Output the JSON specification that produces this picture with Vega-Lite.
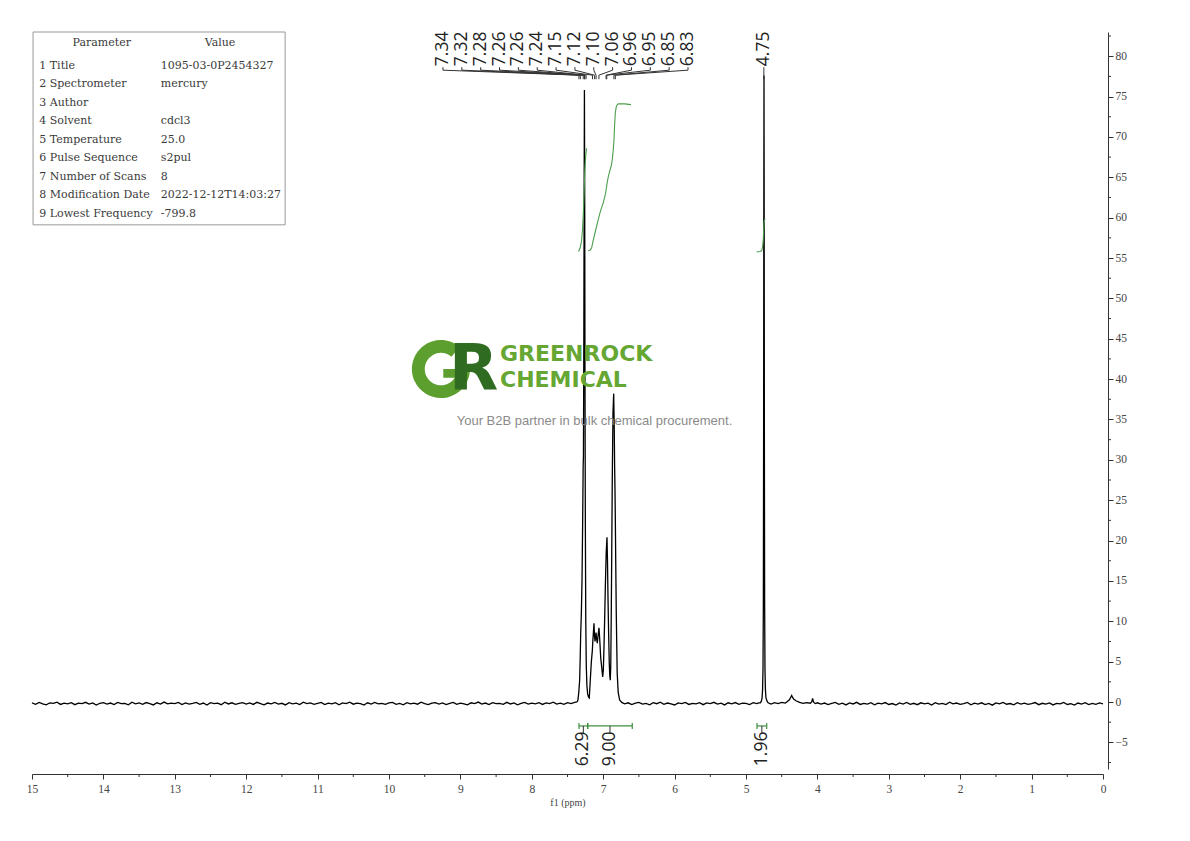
{
  "$schema": "https://vega.github.io/schema/vega-lite/v6.json",
  "width": 1071,
  "height": 737,
  "autosize": {"type": "none"},
  "padding": {"left": 32, "top": 32, "right": 87, "bottom": 72},
  "background": "white",
  "config": {"view": {"stroke": null}},
  "datasets": {
    "spectrum": [
      {"ppm": 15.00, "i": -0.12}, {"ppm": 14.95, "i": -0.28}, {"ppm": 14.90, "i": -0.05}, {"ppm": 14.85, "i": -0.22}, {"ppm": 14.80, "i": -0.35},
      {"ppm": 14.75, "i": -0.10}, {"ppm": 14.70, "i": -0.18}, {"ppm": 14.65, "i": -0.02}, {"ppm": 14.60, "i": -0.30}, {"ppm": 14.55, "i": -0.15},
      {"ppm": 14.50, "i": -0.24}, {"ppm": 14.45, "i": -0.08}, {"ppm": 14.40, "i": -0.33}, {"ppm": 14.35, "i": -0.14}, {"ppm": 14.30, "i": -0.20},
      {"ppm": 14.25, "i": -0.04}, {"ppm": 14.20, "i": -0.26}, {"ppm": 14.15, "i": -0.11}, {"ppm": 14.10, "i": -0.38}, {"ppm": 14.05, "i": -0.16},
      {"ppm": 14.00, "i": -0.09}, {"ppm": 13.95, "i": -0.27}, {"ppm": 13.90, "i": -0.13}, {"ppm": 13.85, "i": -0.31}, {"ppm": 13.80, "i": -0.06},
      {"ppm": 13.75, "i": -0.21}, {"ppm": 13.70, "i": -0.17}, {"ppm": 13.65, "i": -0.34}, {"ppm": 13.60, "i": -0.03}, {"ppm": 13.55, "i": -0.23},
      {"ppm": 13.50, "i": -0.12}, {"ppm": 13.45, "i": -0.29}, {"ppm": 13.40, "i": -0.07}, {"ppm": 13.35, "i": -0.19}, {"ppm": 13.30, "i": -0.36},
      {"ppm": 13.25, "i": -0.10}, {"ppm": 13.20, "i": -0.25}, {"ppm": 13.15, "i": -0.01}, {"ppm": 13.10, "i": -0.22}, {"ppm": 13.05, "i": -0.14},
      {"ppm": 13.00, "i": -0.20}, {"ppm": 12.95, "i": -0.06}, {"ppm": 12.90, "i": -0.32}, {"ppm": 12.85, "i": -0.11}, {"ppm": 12.80, "i": -0.26},
      {"ppm": 12.75, "i": -0.16}, {"ppm": 12.70, "i": -0.04}, {"ppm": 12.65, "i": -0.29}, {"ppm": 12.60, "i": -0.13}, {"ppm": 12.55, "i": -0.37},
      {"ppm": 12.50, "i": -0.08}, {"ppm": 12.45, "i": -0.21}, {"ppm": 12.40, "i": -0.15}, {"ppm": 12.35, "i": -0.33}, {"ppm": 12.30, "i": -0.02},
      {"ppm": 12.25, "i": -0.24}, {"ppm": 12.20, "i": -0.10}, {"ppm": 12.15, "i": -0.28}, {"ppm": 12.10, "i": -0.18}, {"ppm": 12.05, "i": -0.07},
      {"ppm": 12.00, "i": -0.25}, {"ppm": 11.95, "i": -0.11}, {"ppm": 11.90, "i": -0.30}, {"ppm": 11.85, "i": -0.04}, {"ppm": 11.80, "i": -0.19},
      {"ppm": 11.75, "i": -0.34}, {"ppm": 11.70, "i": -0.13}, {"ppm": 11.65, "i": -0.22}, {"ppm": 11.60, "i": -0.06}, {"ppm": 11.55, "i": -0.27},
      {"ppm": 11.50, "i": -0.16}, {"ppm": 11.45, "i": -0.36}, {"ppm": 11.40, "i": -0.09}, {"ppm": 11.35, "i": -0.23}, {"ppm": 11.30, "i": -0.14},
      {"ppm": 11.25, "i": -0.31}, {"ppm": 11.20, "i": -0.03}, {"ppm": 11.15, "i": -0.20}, {"ppm": 11.10, "i": -0.12}, {"ppm": 11.05, "i": -0.28},
      {"ppm": 11.00, "i": -0.17}, {"ppm": 10.95, "i": -0.05}, {"ppm": 10.90, "i": -0.32}, {"ppm": 10.85, "i": -0.15}, {"ppm": 10.80, "i": -0.24},
      {"ppm": 10.75, "i": -0.08}, {"ppm": 10.70, "i": -0.35}, {"ppm": 10.65, "i": -0.12}, {"ppm": 10.60, "i": -0.21}, {"ppm": 10.55, "i": -0.02},
      {"ppm": 10.50, "i": -0.27}, {"ppm": 10.45, "i": -0.14}, {"ppm": 10.40, "i": -0.19}, {"ppm": 10.35, "i": -0.37}, {"ppm": 10.30, "i": -0.10},
      {"ppm": 10.25, "i": -0.26}, {"ppm": 10.20, "i": -0.06}, {"ppm": 10.15, "i": -0.23}, {"ppm": 10.10, "i": -0.16}, {"ppm": 10.05, "i": -0.30},
      {"ppm": 10.00, "i": -0.11}, {"ppm": 9.95, "i": -0.04}, {"ppm": 9.90, "i": -0.29}, {"ppm": 9.85, "i": -0.18}, {"ppm": 9.80, "i": -0.34},
      {"ppm": 9.75, "i": -0.09}, {"ppm": 9.70, "i": -0.22}, {"ppm": 9.65, "i": -0.13}, {"ppm": 9.60, "i": -0.27}, {"ppm": 9.55, "i": -0.03},
      {"ppm": 9.50, "i": -0.20}, {"ppm": 9.45, "i": -0.33}, {"ppm": 9.40, "i": -0.15}, {"ppm": 9.35, "i": -0.07}, {"ppm": 9.30, "i": -0.25},
      {"ppm": 9.25, "i": -0.12}, {"ppm": 9.20, "i": -0.31}, {"ppm": 9.15, "i": -0.17}, {"ppm": 9.10, "i": -0.05}, {"ppm": 9.05, "i": -0.28},
      {"ppm": 9.00, "i": -0.14}, {"ppm": 8.95, "i": -0.22}, {"ppm": 8.90, "i": -0.36}, {"ppm": 8.85, "i": -0.10}, {"ppm": 8.80, "i": -0.19},
      {"ppm": 8.75, "i": -0.01}, {"ppm": 8.70, "i": -0.26}, {"ppm": 8.65, "i": -0.13}, {"ppm": 8.60, "i": -0.32}, {"ppm": 8.55, "i": -0.08},
      {"ppm": 8.50, "i": -0.21}, {"ppm": 8.45, "i": -0.16}, {"ppm": 8.40, "i": -0.29}, {"ppm": 8.35, "i": -0.04}, {"ppm": 8.30, "i": -0.24},
      {"ppm": 8.25, "i": -0.11}, {"ppm": 8.20, "i": -0.35}, {"ppm": 8.15, "i": -0.18}, {"ppm": 8.10, "i": -0.06}, {"ppm": 8.05, "i": -0.27},
      {"ppm": 8.00, "i": -0.14}, {"ppm": 7.95, "i": -0.23}, {"ppm": 7.90, "i": -0.09}, {"ppm": 7.85, "i": -0.30}, {"ppm": 7.80, "i": -0.12},
      {"ppm": 7.75, "i": -0.20}, {"ppm": 7.70, "i": -0.03}, {"ppm": 7.65, "i": -0.25}, {"ppm": 7.60, "i": -0.15}, {"ppm": 7.55, "i": -0.28},
      {"ppm": 7.50, "i": -0.08}, {"ppm": 7.45, "i": -0.19}, {"ppm": 7.40, "i": -0.05}, {"ppm": 7.37, "i": 0.0}, {"ppm": 7.36, "i": 0.1},
      {"ppm": 7.353, "i": 0.3}, {"ppm": 7.342, "i": 1.2}, {"ppm": 7.330, "i": 2.7}, {"ppm": 7.322, "i": 5.5}, {"ppm": 7.315, "i": 8.5},
      {"ppm": 7.306, "i": 11}, {"ppm": 7.297, "i": 15}, {"ppm": 7.288, "i": 22}, {"ppm": 7.281, "i": 29}, {"ppm": 7.277, "i": 30.4},
      {"ppm": 7.272, "i": 42}, {"ppm": 7.267, "i": 62}, {"ppm": 7.263, "i": 75.8}, {"ppm": 7.259, "i": 62}, {"ppm": 7.255, "i": 40},
      {"ppm": 7.250, "i": 22}, {"ppm": 7.244, "i": 10}, {"ppm": 7.237, "i": 4.5}, {"ppm": 7.228, "i": 2.0}, {"ppm": 7.218, "i": 1.0},
      {"ppm": 7.205, "i": 0.6}, {"ppm": 7.195, "i": 0.5}, {"ppm": 7.182, "i": 2.5}, {"ppm": 7.166, "i": 5.0}, {"ppm": 7.152, "i": 6.4},
      {"ppm": 7.145, "i": 7.6}, {"ppm": 7.138, "i": 8.5}, {"ppm": 7.129, "i": 9.75}, {"ppm": 7.122, "i": 8.2}, {"ppm": 7.115, "i": 7.5},
      {"ppm": 7.108, "i": 8.0}, {"ppm": 7.101, "i": 8.6}, {"ppm": 7.092, "i": 7.8}, {"ppm": 7.083, "i": 7.3}, {"ppm": 7.071, "i": 8.3},
      {"ppm": 7.059, "i": 9.2}, {"ppm": 7.047, "i": 7.5}, {"ppm": 7.035, "i": 5.5}, {"ppm": 7.021, "i": 4.3}, {"ppm": 7.007, "i": 3.1},
      {"ppm": 6.998, "i": 4.0}, {"ppm": 6.989, "i": 6.8}, {"ppm": 6.979, "i": 10.5}, {"ppm": 6.970, "i": 14.3}, {"ppm": 6.958, "i": 18.5},
      {"ppm": 6.947, "i": 20.4}, {"ppm": 6.940, "i": 17.5}, {"ppm": 6.933, "i": 13}, {"ppm": 6.924, "i": 8.5}, {"ppm": 6.915, "i": 4.8},
      {"ppm": 6.908, "i": 3.3}, {"ppm": 6.901, "i": 2.7}, {"ppm": 6.894, "i": 4.5}, {"ppm": 6.887, "i": 11}, {"ppm": 6.880, "i": 19},
      {"ppm": 6.873, "i": 27.5}, {"ppm": 6.863, "i": 35.8}, {"ppm": 6.853, "i": 38.2}, {"ppm": 6.845, "i": 33.7}, {"ppm": 6.840, "i": 29.1},
      {"ppm": 6.836, "i": 27}, {"ppm": 6.831, "i": 23.4}, {"ppm": 6.824, "i": 17}, {"ppm": 6.817, "i": 11}, {"ppm": 6.804, "i": 3.6},
      {"ppm": 6.790, "i": 1.2}, {"ppm": 6.770, "i": 0.25}, {"ppm": 6.74, "i": -0.05},
      {"ppm": 6.70, "i": -0.22}, {"ppm": 6.65, "i": -0.10}, {"ppm": 6.60, "i": -0.31}, {"ppm": 6.55, "i": -0.14}, {"ppm": 6.50, "i": -0.06},
      {"ppm": 6.45, "i": -0.26}, {"ppm": 6.40, "i": -0.17}, {"ppm": 6.35, "i": -0.34}, {"ppm": 6.30, "i": -0.09}, {"ppm": 6.25, "i": -0.21},
      {"ppm": 6.20, "i": -0.02}, {"ppm": 6.15, "i": -0.28}, {"ppm": 6.10, "i": -0.13}, {"ppm": 6.05, "i": -0.24}, {"ppm": 6.00, "i": -0.37},
      {"ppm": 5.95, "i": -0.11}, {"ppm": 5.90, "i": -0.19}, {"ppm": 5.85, "i": -0.05}, {"ppm": 5.80, "i": -0.30}, {"ppm": 5.75, "i": -0.16},
      {"ppm": 5.70, "i": -0.23}, {"ppm": 5.65, "i": -0.08}, {"ppm": 5.60, "i": -0.33}, {"ppm": 5.55, "i": -0.12}, {"ppm": 5.50, "i": -0.20},
      {"ppm": 5.45, "i": -0.04}, {"ppm": 5.40, "i": -0.27}, {"ppm": 5.35, "i": -0.15}, {"ppm": 5.30, "i": -0.36}, {"ppm": 5.25, "i": -0.10},
      {"ppm": 5.20, "i": -0.22}, {"ppm": 5.15, "i": -0.07}, {"ppm": 5.10, "i": -0.29}, {"ppm": 5.05, "i": -0.13}, {"ppm": 5.00, "i": -0.18},
      {"ppm": 4.95, "i": -0.32}, {"ppm": 4.90, "i": -0.09}, {"ppm": 4.85, "i": -0.21}, {"ppm": 4.82, "i": -0.12},
      {"ppm": 4.80, "i": -0.1}, {"ppm": 4.785, "i": 0.1},
      {"ppm": 4.775, "i": 0.5}, {"ppm": 4.768, "i": 1.5}, {"ppm": 4.762, "i": 4}, {"ppm": 4.757, "i": 12}, {"ppm": 4.753, "i": 35},
      {"ppm": 4.750, "i": 65}, {"ppm": 4.748, "i": 77.6}, {"ppm": 4.746, "i": 65}, {"ppm": 4.743, "i": 35}, {"ppm": 4.739, "i": 12},
      {"ppm": 4.734, "i": 4}, {"ppm": 4.728, "i": 1.5}, {"ppm": 4.720, "i": 0.5}, {"ppm": 4.705, "i": 0.1}, {"ppm": 4.69, "i": -0.1},
      {"ppm": 4.65, "i": -0.25}, {"ppm": 4.60, "i": -0.09}, {"ppm": 4.55, "i": -0.2}, {"ppm": 4.50, "i": -0.06}, {"ppm": 4.45, "i": -0.14},
      {"ppm": 4.42, "i": 0.05}, {"ppm": 4.39, "i": 0.3}, {"ppm": 4.37, "i": 0.65}, {"ppm": 4.36, "i": 0.8}, {"ppm": 4.35, "i": 0.6},
      {"ppm": 4.33, "i": 0.35}, {"ppm": 4.30, "i": 0.15}, {"ppm": 4.25, "i": -0.05}, {"ppm": 4.20, "i": -0.18}, {"ppm": 4.15, "i": -0.08},
      {"ppm": 4.10, "i": -0.15}, {"ppm": 4.08, "i": 0.0}, {"ppm": 4.067, "i": 0.45}, {"ppm": 4.055, "i": 0.0}, {"ppm": 4.03, "i": -0.2},
      {"ppm": 4.00, "i": -0.1},
      {"ppm": 3.95, "i": -0.27}, {"ppm": 3.90, "i": -0.13}, {"ppm": 3.85, "i": -0.32}, {"ppm": 3.80, "i": -0.18}, {"ppm": 3.75, "i": -0.06},
      {"ppm": 3.70, "i": -0.29}, {"ppm": 3.65, "i": -0.15}, {"ppm": 3.60, "i": -0.36}, {"ppm": 3.55, "i": -0.11}, {"ppm": 3.50, "i": -0.24},
      {"ppm": 3.45, "i": -0.04}, {"ppm": 3.40, "i": -0.30}, {"ppm": 3.35, "i": -0.17}, {"ppm": 3.30, "i": -0.26}, {"ppm": 3.25, "i": -0.09},
      {"ppm": 3.20, "i": -0.34}, {"ppm": 3.15, "i": -0.14}, {"ppm": 3.10, "i": -0.22}, {"ppm": 3.05, "i": -0.07}, {"ppm": 3.00, "i": -0.31},
      {"ppm": 2.95, "i": -0.19}, {"ppm": 2.90, "i": -0.38}, {"ppm": 2.85, "i": -0.12}, {"ppm": 2.80, "i": -0.25}, {"ppm": 2.75, "i": -0.05},
      {"ppm": 2.70, "i": -0.28}, {"ppm": 2.65, "i": -0.16}, {"ppm": 2.60, "i": -0.33}, {"ppm": 2.55, "i": -0.10}, {"ppm": 2.50, "i": -0.23},
      {"ppm": 2.45, "i": -0.14}, {"ppm": 2.40, "i": -0.37}, {"ppm": 2.35, "i": -0.08}, {"ppm": 2.30, "i": -0.27}, {"ppm": 2.25, "i": -0.18},
      {"ppm": 2.20, "i": -0.32}, {"ppm": 2.15, "i": -0.03}, {"ppm": 2.10, "i": -0.24}, {"ppm": 2.05, "i": -0.13}, {"ppm": 2.00, "i": -0.29},
      {"ppm": 1.95, "i": -0.20}, {"ppm": 1.90, "i": -0.06}, {"ppm": 1.85, "i": -0.35}, {"ppm": 1.80, "i": -0.15}, {"ppm": 1.75, "i": -0.26},
      {"ppm": 1.70, "i": -0.10}, {"ppm": 1.65, "i": -0.31}, {"ppm": 1.60, "i": -0.17}, {"ppm": 1.55, "i": -0.39}, {"ppm": 1.50, "i": -0.12},
      {"ppm": 1.45, "i": -0.22}, {"ppm": 1.40, "i": -0.05}, {"ppm": 1.35, "i": -0.28}, {"ppm": 1.30, "i": -0.19}, {"ppm": 1.25, "i": -0.34},
      {"ppm": 1.20, "i": -0.09}, {"ppm": 1.15, "i": -0.25}, {"ppm": 1.10, "i": -0.14}, {"ppm": 1.05, "i": -0.30}, {"ppm": 1.00, "i": -0.21},
      {"ppm": 0.95, "i": -0.07}, {"ppm": 0.90, "i": -0.33}, {"ppm": 0.85, "i": -0.16}, {"ppm": 0.80, "i": -0.27}, {"ppm": 0.75, "i": -0.11},
      {"ppm": 0.70, "i": -0.36}, {"ppm": 0.65, "i": -0.18}, {"ppm": 0.60, "i": -0.24}, {"ppm": 0.55, "i": -0.06}, {"ppm": 0.50, "i": -0.31},
      {"ppm": 0.45, "i": -0.20}, {"ppm": 0.40, "i": -0.38}, {"ppm": 0.35, "i": -0.13}, {"ppm": 0.30, "i": -0.26}, {"ppm": 0.25, "i": -0.09},
      {"ppm": 0.20, "i": -0.32}, {"ppm": 0.15, "i": -0.17}, {"ppm": 0.10, "i": -0.28}, {"ppm": 0.05, "i": -0.12}, {"ppm": 0.00, "i": -0.22}
    ],
    "integrals": [
      {"seg": "a", "ppm": 7.345, "i": 55.8}, {"seg": "a", "ppm": 7.325, "i": 56.2}, {"seg": "a", "ppm": 7.305, "i": 57.0},
      {"seg": "a", "ppm": 7.290, "i": 58.5}, {"seg": "a", "ppm": 7.278, "i": 60.5}, {"seg": "a", "ppm": 7.268, "i": 63.0},
      {"seg": "a", "ppm": 7.258, "i": 65.8}, {"seg": "a", "ppm": 7.245, "i": 67.7}, {"seg": "a", "ppm": 7.232, "i": 68.6},
      {"seg": "b", "ppm": 7.209, "i": 55.89}, {"seg": "b", "ppm": 7.180, "i": 56.0}, {"seg": "b", "ppm": 7.161, "i": 56.3},
      {"seg": "b", "ppm": 7.140, "i": 57.2}, {"seg": "b", "ppm": 7.115, "i": 58.1}, {"seg": "b", "ppm": 7.080, "i": 59.4},
      {"seg": "b", "ppm": 7.045, "i": 60.6}, {"seg": "b", "ppm": 7.020, "i": 61.3}, {"seg": "b", "ppm": 6.998, "i": 61.9},
      {"seg": "b", "ppm": 6.975, "i": 62.7}, {"seg": "b", "ppm": 6.961, "i": 63.3}, {"seg": "b", "ppm": 6.945, "i": 64.3},
      {"seg": "b", "ppm": 6.928, "i": 65.1}, {"seg": "b", "ppm": 6.905, "i": 65.9}, {"seg": "b", "ppm": 6.885, "i": 66.5},
      {"seg": "b", "ppm": 6.873, "i": 67.2}, {"seg": "b", "ppm": 6.860, "i": 68.3}, {"seg": "b", "ppm": 6.849, "i": 69.6},
      {"seg": "b", "ppm": 6.840, "i": 71.5}, {"seg": "b", "ppm": 6.831, "i": 72.9}, {"seg": "b", "ppm": 6.820, "i": 73.6},
      {"seg": "b", "ppm": 6.811, "i": 73.9}, {"seg": "b", "ppm": 6.790, "i": 74.1}, {"seg": "b", "ppm": 6.765, "i": 74.1},
      {"seg": "b", "ppm": 6.700, "i": 74.1}, {"seg": "b", "ppm": 6.611, "i": 74.0},
      {"seg": "c", "ppm": 4.850, "i": 55.76}, {"seg": "c", "ppm": 4.810, "i": 55.8}, {"seg": "c", "ppm": 4.780, "i": 55.9},
      {"seg": "c", "ppm": 4.768, "i": 56.4}, {"seg": "c", "ppm": 4.758, "i": 57.3}, {"seg": "c", "ppm": 4.752, "i": 58.5},
      {"seg": "c", "ppm": 4.748, "i": 59.3}, {"seg": "c", "ppm": 4.740, "i": 59.7}, {"seg": "c", "ppm": 4.730, "i": 59.8}
    ],
    "ranges": [
      {"from": 7.339, "to": 7.217, "val": "6.29"},
      {"from": 7.217, "to": 6.593, "val": "9.00"},
      {"from": 4.846, "to": 4.710, "val": "1.96"}
    ],
    "peaks": [
      {"i": 0, "g": "a", "lab": "7.34", "shift": 7.34},
      {"i": 1, "g": "a", "lab": "7.32", "shift": 7.32},
      {"i": 2, "g": "a", "lab": "7.28", "shift": 7.28},
      {"i": 3, "g": "a", "lab": "7.26", "shift": 7.262},
      {"i": 4, "g": "a", "lab": "7.26", "shift": 7.258},
      {"i": 5, "g": "a", "lab": "7.24", "shift": 7.24},
      {"i": 6, "g": "a", "lab": "7.15", "shift": 7.15},
      {"i": 7, "g": "a", "lab": "7.12", "shift": 7.12},
      {"i": 8, "g": "a", "lab": "7.10", "shift": 7.10},
      {"i": 9, "g": "a", "lab": "7.06", "shift": 7.06},
      {"i": 10, "g": "a", "lab": "6.96", "shift": 6.96},
      {"i": 11, "g": "a", "lab": "6.95", "shift": 6.95},
      {"i": 12, "g": "a", "lab": "6.85", "shift": 6.85},
      {"i": 13, "g": "a", "lab": "6.83", "shift": 6.83},
      {"i": 0, "g": "b", "lab": "4.75", "shift": 4.75}
    ],
    "params": [
      {"row": 1, "name": "1 Title", "value": "1095-03-0P2454327"},
      {"row": 2, "name": "2 Spectrometer", "value": "mercury"},
      {"row": 3, "name": "3 Author", "value": ""},
      {"row": 4, "name": "4 Solvent", "value": "cdcl3"},
      {"row": 5, "name": "5 Temperature", "value": "25.0"},
      {"row": 6, "name": "6 Pulse Sequence", "value": "s2pul"},
      {"row": 7, "name": "7 Number of Scans", "value": "8"},
      {"row": 8, "name": "8 Modification Date", "value": "2022-12-12T14:03:27"},
      {"row": 9, "name": "9 Lowest Frequency", "value": "-799.8"}
    ],
    "yminor": [
      {"v": -7.5}, {"v": -2.5}, {"v": 2.5}, {"v": 7.5}, {"v": 12.5}, {"v": 17.5}, {"v": 22.5}, {"v": 27.5}, {"v": 32.5}, {"v": 37.5},
      {"v": 42.5}, {"v": 47.5}, {"v": 52.5}, {"v": 57.5}, {"v": 62.5}, {"v": 67.5}, {"v": 72.5}, {"v": 77.5}, {"v": 82.5}
    ],
    "xminor": [
      {"v": 0.5}, {"v": 1.5}, {"v": 2.5}, {"v": 3.5}, {"v": 4.5}, {"v": 5.5}, {"v": 6.5}, {"v": 7.5}, {"v": 8.5}, {"v": 9.5},
      {"v": 10.5}, {"v": 11.5}, {"v": 12.5}, {"v": 13.5}, {"v": 14.5}
    ]
  },
  "layer": [
    {
      "data": {"name": "spectrum"},
      "mark": {"type": "line", "color": "#000000", "strokeWidth": 1.3},
      "encoding": {
        "x": {
          "field": "ppm", "type": "quantitative", "title": "f1 (ppm)",
          "scale": {"domain": [15, 0], "nice": false, "zero": false},
          "axis": {
            "orient": "bottom", "offset": 5, "grid": false,
            "values": [0, 1, 2, 3, 4, 5, 6, 7, 8, 9, 10, 11, 12, 13, 14, 15],
            "format": "d",
            "tickSize": 5,
            "labelFont": "Liberation Serif", "labelFontSize": 11.5, "labelColor": "#444444", "labelPadding": 4,
            "labelFlush": false, "labelOverlap": false,
            "domainColor": "#333333", "tickColor": "#333333",
            "titleFont": "Liberation Serif", "titleFontSize": 10, "titleFontWeight": "normal", "titleColor": "#444444", "titlePadding": 3
          }
        },
        "y": {
          "field": "i", "type": "quantitative", "title": null,
          "scale": {"domain": [-8.3, 83], "nice": false, "zero": false},
          "axis": {
            "orient": "right", "offset": 5, "grid": false,
            "values": [-5, 0, 5, 10, 15, 20, 25, 30, 35, 40, 45, 50, 55, 60, 65, 70, 75, 80],
            "format": "d",
            "tickSize": 5,
            "labelFont": "Liberation Serif", "labelFontSize": 11.5, "labelColor": "#444444", "labelPadding": 2,
            "labelFlush": false, "labelOverlap": false,
            "domainColor": "#333333", "tickColor": "#333333"
          }
        }
      }
    },
    {
      "data": {"name": "yminor"},
      "mark": {"type": "rule", "color": "#333333", "strokeWidth": 1},
      "encoding": {"x": {"datum": -0.07}, "x2": {"datum": -0.112}, "y": {"field": "v", "type": "quantitative", "title": null}}
    },
    {
      "data": {"name": "xminor"},
      "mark": {"type": "rule", "color": "#333333", "strokeWidth": 1},
      "encoding": {"x": {"field": "v", "type": "quantitative", "title": "f1 (ppm)"}, "y": {"datum": -8.92}, "y2": {"datum": -9.29}}
    },
    {
      "data": {"values": [{}]},
      "mark": {"type": "point", "shape": "M 0.643 -0.766 A 1 1 0 1 0 1 0 L 0.08 0 L 0.08 0.3 L 0.473 0.3 A 0.56 0.56 0 1 1 0.36 -0.429 Z", "size": 3364, "filled": true, "opacity": 1, "color": "#5c9f2f", "strokeWidth": 0},
      "encoding": {"x": {"datum": 9.272}, "y": {"datum": 41.24}}
    },
    {
      "data": {"values": [{}]},
      "mark": {"type": "text", "text": "R", "font": "DejaVu Sans", "fontWeight": "bold", "fontSize": 64, "align": "center", "baseline": "alphabetic", "color": "#2f6b20"},
      "encoding": {"x": {"datum": 8.816}, "y": {"datum": 38.64}}
    },
    {
      "data": {"values": [{}]},
      "mark": {"type": "text", "text": "GREENROCK", "font": "DejaVu Sans", "fontWeight": "bold", "fontSize": 22, "align": "left", "baseline": "alphabetic", "color": "#66a733"},
      "encoding": {"x": {"datum": 8.445}, "y": {"datum": 42.2}}
    },
    {
      "data": {"values": [{}]},
      "mark": {"type": "text", "text": "CHEMICAL", "font": "DejaVu Sans", "fontWeight": "bold", "fontSize": 22, "align": "left", "baseline": "alphabetic", "color": "#66a733"},
      "encoding": {"x": {"datum": 8.445}, "y": {"datum": 39.0}}
    },
    {
      "data": {"values": [{}]},
      "mark": {"type": "text", "text": "Your B2B partner in bulk chemical procurement.", "font": "Liberation Sans", "fontSize": 13, "align": "center", "baseline": "middle", "color": "#8a8a8a"},
      "encoding": {"x": {"datum": 7.122}, "y": {"datum": 34.8}}
    },
    {
      "data": {"name": "integrals"},
      "mark": {"type": "line", "color": "#4c9e4c", "strokeWidth": 1.1},
      "encoding": {
        "x": {"field": "ppm", "type": "quantitative", "title": "f1 (ppm)"},
        "y": {"field": "i", "type": "quantitative", "title": null},
        "detail": {"field": "seg"}
      }
    },
    {
      "data": {"name": "ranges"},
      "mark": {"type": "rule", "color": "#3f8f3f", "strokeWidth": 1.2},
      "encoding": {"x": {"field": "from", "type": "quantitative", "title": "f1 (ppm)"}, "x2": {"field": "to"}, "y": {"datum": -2.97}}
    },
    {
      "data": {"name": "ranges"},
      "mark": {"type": "rule", "color": "#3f8f3f", "strokeWidth": 1.2},
      "encoding": {"x": {"field": "from", "type": "quantitative", "title": "f1 (ppm)"}, "y": {"datum": -2.6}, "y2": {"datum": -3.34}}
    },
    {
      "data": {"name": "ranges"},
      "mark": {"type": "rule", "color": "#3f8f3f", "strokeWidth": 1.2},
      "encoding": {"x": {"field": "to", "type": "quantitative", "title": "f1 (ppm)"}, "y": {"datum": -2.6}, "y2": {"datum": -3.34}}
    },
    {
      "data": {"name": "ranges"},
      "transform": [{"calculate": "(datum.from + datum.to) / 2", "as": "mid"}],
      "mark": {"type": "rule", "color": "#333333", "strokeWidth": 1},
      "encoding": {"x": {"field": "mid", "type": "quantitative", "title": "f1 (ppm)"}, "y": {"datum": -2.97}, "y2": {"datum": -3.84}}
    },
    {
      "data": {"name": "ranges"},
      "transform": [{"calculate": "(datum.from + datum.to) / 2", "as": "mid"}],
      "mark": {"type": "text", "angle": 270, "align": "left", "baseline": "middle", "font": "Open Sans", "fontSize": 17.5, "color": "#222222"},
      "encoding": {"x": {"field": "mid", "type": "quantitative", "title": "f1 (ppm)"}, "y": {"datum": -7.95}, "text": {"field": "val"}}
    },
    {
      "data": {"name": "peaks"},
      "transform": [{"calculate": "datum.g === 'a' ? 9.244 - 0.264 * datum.i : datum.shift", "as": "lx"}],
      "mark": {"type": "text", "angle": 270, "align": "left", "baseline": "middle", "font": "Open Sans", "fontSize": 17.5, "color": "#222222"},
      "encoding": {"x": {"field": "lx", "type": "quantitative", "title": "f1 (ppm)"}, "y": {"datum": 78.76}, "text": {"field": "lab"}}
    },
    {
      "data": {"name": "peaks"},
      "transform": [{"calculate": "datum.g === 'a' ? 9.244 - 0.264 * datum.i : datum.shift", "as": "lx"}],
      "mark": {"type": "rule", "color": "#333333", "strokeWidth": 1},
      "encoding": {"x": {"field": "lx", "type": "quantitative", "title": "f1 (ppm)"}, "y": {"datum": 78.64}, "y2": {"datum": 78.27}}
    },
    {
      "data": {"name": "peaks"},
      "transform": [{"calculate": "datum.g === 'a' ? 9.244 - 0.264 * datum.i : datum.shift", "as": "lx"}],
      "mark": {"type": "rule", "color": "#333333", "strokeWidth": 1},
      "encoding": {"x": {"field": "lx", "type": "quantitative", "title": "f1 (ppm)"}, "x2": {"field": "shift"}, "y": {"datum": 78.27}, "y2": {"datum": 77.65}}
    },
    {
      "data": {"name": "peaks"},
      "mark": {"type": "rule", "color": "#333333", "strokeWidth": 1},
      "encoding": {"x": {"field": "shift", "type": "quantitative", "title": "f1 (ppm)"}, "y": {"datum": 77.65}, "y2": {"datum": 77.15}}
    },
    {
      "data": {"values": [{}]},
      "mark": {"type": "rect", "fill": "transparent", "stroke": "#999999", "strokeWidth": 1},
      "encoding": {"x": {"datum": 14.985}, "x2": {"datum": 11.455}, "y": {"datum": 83.0}, "y2": {"datum": 59.11}}
    },
    {
      "data": {"values": [{}]},
      "mark": {"type": "text", "text": "Parameter", "font": "DejaVu Serif", "fontSize": 11, "align": "center", "baseline": "middle", "color": "#3a3a3a"},
      "encoding": {"x": {"datum": 14.024}, "y": {"datum": 81.6}}
    },
    {
      "data": {"values": [{}]},
      "mark": {"type": "text", "text": "Value", "font": "DejaVu Serif", "fontSize": 11, "align": "center", "baseline": "middle", "color": "#3a3a3a"},
      "encoding": {"x": {"datum": 12.367}, "y": {"datum": 81.6}}
    },
    {
      "data": {"name": "params"},
      "transform": [{"calculate": "78.84 - 2.291 * (datum.row - 1)", "as": "ty"}],
      "mark": {"type": "text", "font": "DejaVu Serif", "fontSize": 11, "align": "left", "baseline": "middle", "color": "#3a3a3a"},
      "encoding": {"x": {"datum": 14.898}, "y": {"field": "ty", "type": "quantitative", "title": null}, "text": {"field": "name"}}
    },
    {
      "data": {"name": "params"},
      "transform": [{"calculate": "78.84 - 2.291 * (datum.row - 1)", "as": "ty"}],
      "mark": {"type": "text", "font": "DejaVu Serif", "fontSize": 11, "align": "left", "baseline": "middle", "color": "#3a3a3a"},
      "encoding": {"x": {"datum": 13.197}, "y": {"field": "ty", "type": "quantitative", "title": null}, "text": {"field": "value"}}
    }
  ]
}
